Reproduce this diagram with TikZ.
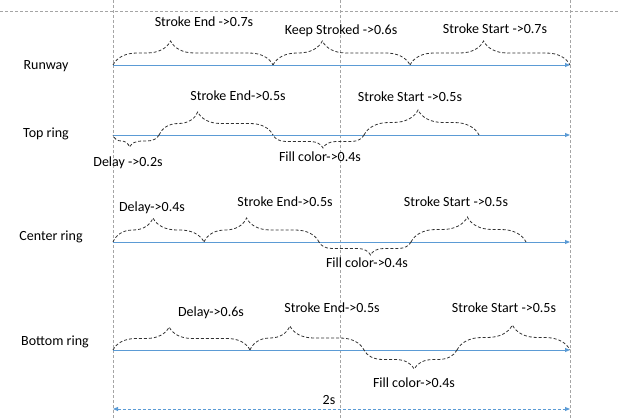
\documentclass[tikz,border=0pt]{standalone}
\usepackage{fontspec}
\setmainfont{Carlito}
\usetikzlibrary{arrows.meta,decorations.pathreplacing}
\definecolor{trackblue}{RGB}{91,155,213}
\definecolor{guidegray}{RGB}{165,165,165}
\definecolor{bracegray}{RGB}{50,50,50}
\begin{document}
\begin{tikzpicture}[x=1pt, y=-1pt, font=\fontsize{14}{16}\selectfont,
	guide/.style={guidegray, line width=0.8pt, dash pattern=on 3pt off 2pt},
	track/.style={trackblue, line width=0.9pt, -{Triangle[length=5pt,width=4pt]}},
	total/.style={trackblue, line width=0.9pt, dash pattern=on 3pt off 2pt,
		{Triangle[length=5pt,width=4pt]}-{Triangle[length=5pt,width=4pt]}},
	span/.style 2 args={bracegray, line width=0.8pt, dash pattern=on 3pt off 2pt,
		decorate, decoration={brace, amplitude=#1, aspect=#2}}]
	\useasboundingbox (0,0) rectangle (618,420);
	% guide lines
	\draw[guide] (0,11) -- (618,11);
	\foreach \gx in {113,340,570} \draw[guide] (\gx,0) -- (\gx,420);
	% timelines
	\foreach \row/\y in {rw/65, top/135, ctr/242, bot/350} {
			\coordinate (\row-a) at (113,\y);
			\coordinate (\row-b) at (570,\y);
			\draw[track] (\row-a) -- (\row-b);
		}
	\node (rwName) at (46,66) {Runway};
	\node (topName) at (46,134) {Top ring};
	\node (ctrName) at (51,237) {Center ring};
	\node (botName) at (55,342) {Bottom ring};
	% braces above
	\foreach \xa/\xb/\y/\asp/\amp in {113/273/65/0.36/24, 273/410/65/0.36/24, 410/570/65/0.46/24,
			159/273/135/0.34/23, 364/479/135/0.47/25,
			113/204/242/0.44/24, 204/319/242/0.37/24, 411/526/242/0.49/25,
			113/250/350/0.41/23, 250/364/350/0.35/24, 457/570/350/0.49/25}
	\draw[span={\amp}{\asp}] (\xa,\y) -- (\xb,\y);
	% braces below
	\foreach \xa/\xb/\y/\asp/\amp in {159/113/135/0.64/12, 364/273/135/0.45/13,
			411/319/242/0.44/13, 457/364/350/0.46/19}
	\draw[span={\amp}{\asp}] (\xa,\y) -- (\xb,\y);
	% labels
	\foreach \nm/\lx/\ly/\txt in {rwEnd/204/22/Stroke End ->0.7s, rwKeep/341/31/Keep Stroked ->0.6s,
			rwStart/495/29/Stroke Start ->0.7s,
			topEnd/238/96/Stroke End->0.5s, topStart/410/97/Stroke Start ->0.5s,
			topDelay/128/163/Delay ->0.2s, topFill/320/157/Fill color->0.4s,
			ctrDelay/152/208/Delay->0.4s, ctrEnd/285/202/Stroke End->0.5s,
			ctrStart/456/202/Stroke Start ->0.5s, ctrFill/367/263/Fill color->0.4s,
			botDelay/211/313/Delay->0.6s, botEnd/332/308/Stroke End->0.5s,
			botStart/504/308/Stroke Start ->0.5s, botFill/414/383/Fill color->0.4s}
	\node (\nm) at (\lx,\ly) {\txt};
	% total duration
	\coordinate (span-a) at (113,409);
	\coordinate (span-b) at (570,409);
	\draw[total] (span-a) -- (span-b);
	\node (spanLabel) at (329,400) {2s};
\end{tikzpicture}
\end{document}
